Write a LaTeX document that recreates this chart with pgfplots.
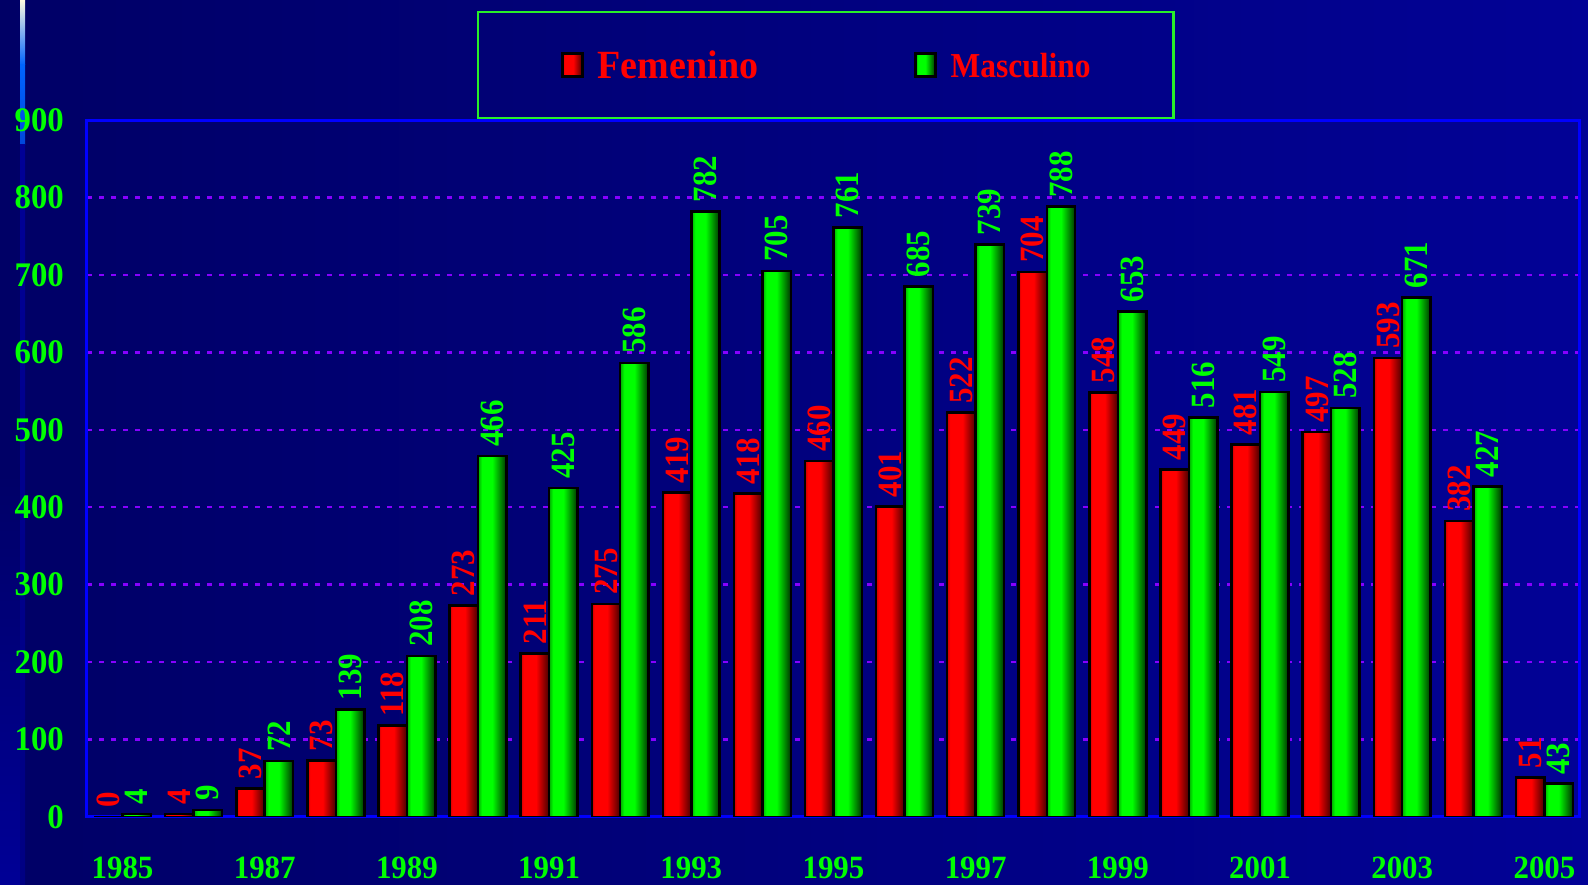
\documentclass[border=0pt]{standalone}
\usepackage{pgfplots}
\pgfplotsset{compat=1.18}
\usepackage{fontspec}
\newfontfamily\tnr[FakeStretch=0.95]{Liberation Serif}
\newfontfamily\tnrc[FakeStretch=0.91]{Liberation Serif}
\newfontfamily\tnrm[FakeStretch=0.9]{Liberation Serif}
\definecolor{bgL}{RGB}{0,0,102}
\definecolor{bgR}{RGB}{2,2,150}
\definecolor{gridc}{RGB}{135,0,255}
\definecolor{axc}{RGB}{0,0,255}
\definecolor{lg}{RGB}{0,255,0}
\definecolor{lr}{RGB}{255,0,0}
\definecolor{rL}{RGB}{200,0,0}
\definecolor{rM}{RGB}{255,0,0}
\definecolor{rR}{RGB}{70,0,0}
\definecolor{gL}{RGB}{0,170,0}
\definecolor{gM}{RGB}{0,255,0}
\definecolor{gR}{RGB}{0,50,0}
\definecolor{legbox}{RGB}{40,240,40}
\pgfdeclarehorizontalshading{redshade}{100bp}{color(0bp)=(rL); color(25bp)=(rL); color(30bp)=(rM); color(52bp)=(rM); color(75bp)=(rR); color(100bp)=(rR)}
\pgfdeclarehorizontalshading{greenshade}{100bp}{color(0bp)=(gL); color(25bp)=(gL); color(32bp)=(gM); color(50bp)=(gM); color(75bp)=(gR); color(100bp)=(gR)}
\pgfplotsset{
  redbar/.style={bar shift=-0.2, forget plot, draw=black, line width=2.5pt,
    shade, shading=redshade,
    every node near coord/.append style={text=lr}},
  greenbar/.style={bar shift=0.2, forget plot, draw=black, line width=2.5pt,
    shade, shading=greenshade,
    every node near coord/.append style={text=lg}},
  redleg/.style={legend image code/.code={\draw[draw=black, line width=2.5pt, shade, shading=redshade] (0pt,-11.5pt) rectangle (20pt,11.5pt);}},
  greenleg/.style={legend image code/.code={\draw[draw=black, line width=2.5pt, shade, shading=greenshade] (0pt,-11.5pt) rectangle (20pt,11.5pt);}},
}
% one bar per \addplot, so that each bar gets its own shading
\newcommand{\F}[2]{\addplot[redbar] coordinates {(#1,#2)};}
\newcommand{\M}[2]{\addplot[greenbar] coordinates {(#1,#2)};}
\begin{document}
\begin{tikzpicture}
\shade[left color=bgL, right color=bgR] (0pt,0pt) rectangle (1588pt,885pt);
\shade[top color=bgL, bottom color={rgb,255:red,0;green,0;blue,150}] (0pt,0pt) rectangle (20pt,420pt);
\shade[top color={rgb,255:red,255;green,250;blue,225}, bottom color={rgb,255:red,0;green,100;blue,255}] (20pt,885pt) rectangle (25pt,820pt);
\shade[top color={rgb,255:red,0;green,100;blue,255}, bottom color={rgb,255:red,0;green,70;blue,220}] (20pt,820pt) rectangle (25pt,740pt);
\shade[top color={rgb,255:red,0;green,0;blue,150}, bottom color={rgb,255:red,0;green,0;blue,130}] (20pt,740pt) rectangle (25pt,0pt);
\begin{axis}[
  at={(87pt,68pt)}, anchor=south west, scale only axis,
  width=1493pt, height=697pt,
  xmin=-0.5, xmax=20.5, ymin=0, ymax=900,
  enlargelimits=false,
  ybar=0pt, bar width=0.4,
  axis line style={draw=axc, line width=3pt},
  tick style={draw=none},
  major tick length=0pt,
  ytick={0,100,...,900},
  xtick={0,2,...,20},
  xticklabels={1985,1987,1989,1991,1993,1995,1997,1999,2001,2003,2005},
  ymajorgrids,
  grid style={draw=gridc, line width=2.5pt, dash pattern=on 5pt off 7pt},
  tick label style={text=lg, inner sep=0pt},
  yticklabel style={font=\tnr\bfseries\fontsize{34.5}{38}\selectfont, anchor=east, xshift=-23pt},
  xticklabel style={font=\tnr\bfseries\fontsize{32.5}{36}\selectfont, anchor=north, yshift=-40pt},
  /pgf/number format/assume math mode=true,
  nodes near coords,
  every node near coord/.append style={rotate=90, anchor=west, inner xsep=8pt, inner ysep=0pt,
     font=\tnrc\bfseries\fontsize{34}{37}\selectfont},
  legend columns=2,
  legend style={at={(0.2612,1.1564)}, anchor=north west, draw=legbox, line width=2.5pt, fill=none,
     inner xsep=83pt, inner ysep=39pt,
     nodes={inner sep=0pt, text depth=0pt},
     /tikz/every odd column/.append style={column sep=14pt},
     /tikz/every even column/.append style={column sep=156pt}},
]
% Femenino
\F{0}{0}\F{1}{4}\F{2}{37}\F{3}{73}\F{4}{118}\F{5}{273}\F{6}{211}
\F{7}{275}\F{8}{419}\F{9}{418}\F{10}{460}\F{11}{401}\F{12}{522}\F{13}{704}
\F{14}{548}\F{15}{449}\F{16}{481}\F{17}{497}\F{18}{593}\F{19}{382}\F{20}{51}
% Masculino
\M{0}{4}\M{1}{9}\M{2}{72}\M{3}{139}\M{4}{208}\M{5}{466}\M{6}{425}
\M{7}{586}\M{8}{782}\M{9}{705}\M{10}{761}\M{11}{685}\M{12}{739}\M{13}{788}
\M{14}{653}\M{15}{516}\M{16}{549}\M{17}{528}\M{18}{671}\M{19}{427}\M{20}{43}
\addlegendimage{redleg}
\addlegendentry{\tnr\bfseries\fontsize{40}{44}\selectfont\color{lr}Femenino}
\addlegendimage{greenleg}
\addlegendentry{\tnrm\bfseries\fontsize{35}{40}\selectfont\color{lr}Masculino}
\end{axis}
\pgfresetboundingbox
\useasboundingbox (0pt,0pt) rectangle (1588pt,885pt);
\end{tikzpicture}
\end{document}
